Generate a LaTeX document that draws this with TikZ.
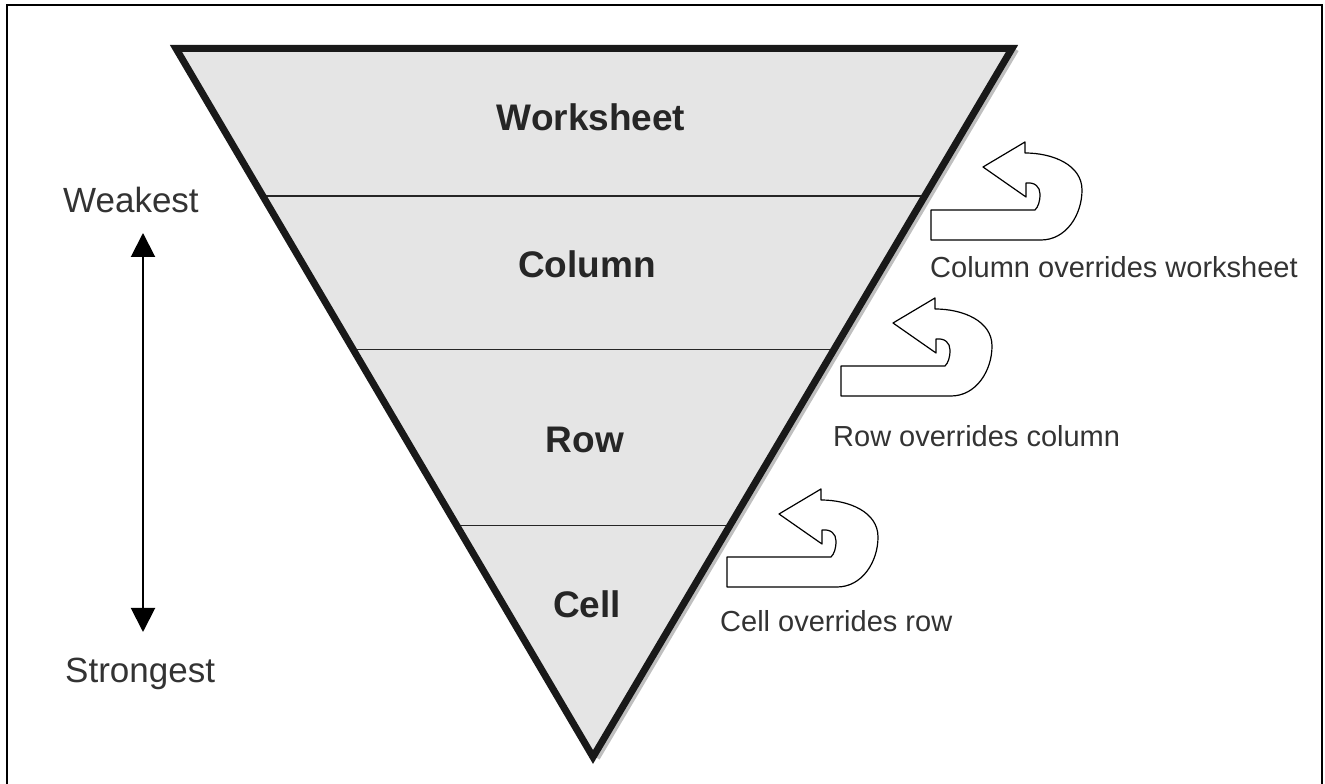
\documentclass[tikz,border=0pt]{standalone}
\usepackage{fontspec}
\setmainfont{Liberation Sans}
\usetikzlibrary{arrows.meta,calc}

\tikzset{
  level/.style={font=\fontsize{37}{40}\selectfont\bfseries, anchor=base, inner sep=0pt, text=black!85},
  side/.style={font=\fontsize{35}{40}\selectfont, anchor=base west, inner sep=0pt, text=black!80},
  note/.style={font=\fontsize{29}{34}\selectfont, anchor=base west, inner sep=0pt, text=black!80},
  divider/.style={line width=1.6pt, black!85},
  turnarrow/.pic={
    \draw[line width=1.2pt, fill=white, line join=round]
      (0,0) -- (110,0) .. controls (135,0) and (151,25) .. (151,50)
      .. controls (151,75) and (122,87) .. (94,87) -- (94,98) -- (52,73)
      -- (95,43) -- (95,57) .. controls (104,58) and (109,53) .. (109,46)
      .. controls (109,38) and (107,33) .. (104,30) -- (0,30) -- cycle;
  }
}

\begin{document}
\begin{tikzpicture}[x=1pt,y=1pt]
    \useasboundingbox (0,0) rectangle (1325,784);
    % frame
    \draw[line width=2.5pt] (7,-5) -- (7,779) -- (1322,779) -- (1322,-5);
    % funnel
    \coordinate (tl) at (176,735.5);
    \coordinate (tr) at (1012,735.5);
    \coordinate (ap) at (593,27);
    \draw[black!25, line width=6pt] ($(tr)+(4,-1)$) -- ($(ap)+(4,-1)$);
    \fill[black!10] (tl) -- (tr) -- (ap) -- cycle;
    \draw[divider] ($(tl)!0.208!(ap)$) -- ($(tr)!0.208!(ap)$);
    \draw[divider] ($(tl)!0.425!(ap)$) -- ($(tr)!0.425!(ap)$);
    \draw[divider] ($(tl)!0.673!(ap)$) -- ($(tr)!0.673!(ap)$);
    \draw[line width=7pt, black!90] (tl) -- (tr) -- (ap) -- cycle;
    % levels
    \node[level] (ws) at (591,653) {Worksheet};
    \node[level] (col) at (587,506) {Column};
    \node[level] (row) at (585,331) {Row};
    \node[level] (cell) at (587,166) {Cell};
    % strength scale
    \node[side] (weak) at (63,571) {Weakest};
    \node[side] (strong) at (65,101) {Strongest};
    \coordinate (wk) at (143,551);
    \coordinate (st) at (143,152);
    \draw[{Triangle[length=24pt,width=24pt]}-{Triangle[length=24pt,width=24pt]}, line width=2pt] (wk) -- (st);
    % overrides
    \pic at (931,544) {turnarrow};
    \pic at (841,388) {turnarrow};
    \pic at (727,197) {turnarrow};
    \node[note] (n1) at (930,506) {Column overrides worksheet};
    \node[note] (n2) at (833,337) {Row overrides column};
    \node[note] (n3) at (720,152) {Cell overrides row};
\end{tikzpicture}
\end{document}
